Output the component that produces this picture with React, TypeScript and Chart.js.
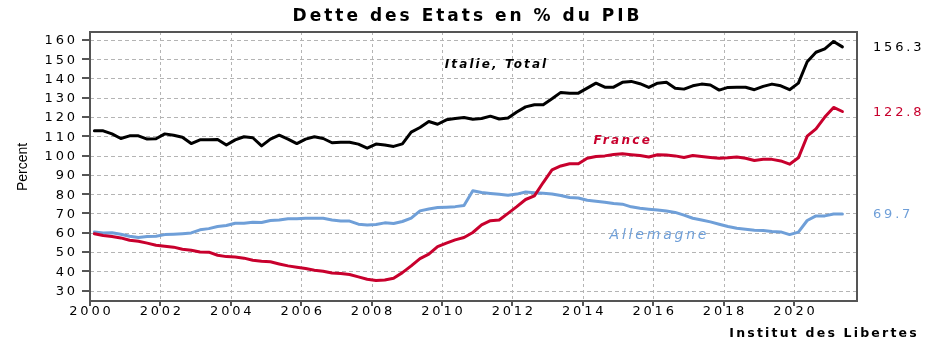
import React, { useEffect, useRef } from "react";
import { Chart, registerables } from "chart.js";
Chart.register(...registerables);

// Quarterly categories 2000-T1 .. 2021-T2
const quarters: string[] = (() => {
  const out: string[] = [];
  for (let y = 2000; y <= 2021; y++)
    for (let q = 1; q <= 4; q++) if (!(y === 2021 && q > 2)) out.push(`${y}-T${q}`);
  return out;
})();

const italie = [
  112.8, 112.8, 111.2, 108.8, 110.2, 110.2, 108.5, 108.7, 111.2, 110.5,
  109.5, 106.2, 108.1, 108.1, 108.3, 105.4, 108.1, 109.7, 109.2, 105.0,
  108.5, 110.5, 108.5, 106.2, 108.5, 109.7, 108.8, 106.6, 106.9, 106.9,
  105.9, 103.8, 105.9, 105.4, 104.7, 106.0, 112.1, 114.5, 117.6, 116.2,
  118.5, 119.2, 119.7, 118.8, 119.2, 120.4, 118.9, 119.4, 122.5, 125.2,
  126.3, 126.3, 129.4, 132.7, 132.3, 132.3, 134.9, 137.5, 135.4, 135.4,
  137.9, 138.4, 137.2, 135.3, 137.5, 137.9, 134.9, 134.4, 136.1, 137.0,
  136.5, 133.9, 135.3, 135.4, 135.4, 134.1, 135.8, 137.0, 136.1, 134.1,
  137.5, 148.6, 153.5, 155.3, 159.1, 156.3,
];

const france = [
  59.4, 58.5, 58.0, 57.3, 56.1, 55.6, 54.6, 53.5, 53.0, 52.5,
  51.4, 50.9, 50.0, 49.9, 48.3, 47.6, 47.4, 46.8, 45.7, 45.2,
  44.9, 43.8, 42.8, 42.1, 41.4, 40.5, 40.0, 39.1, 38.9, 38.3,
  37.1, 35.9, 35.2, 35.5, 36.4, 39.3, 42.8, 46.6, 48.9, 52.8,
  54.6, 56.3, 57.5, 60.1, 64.0, 66.2, 66.6, 70.0, 73.5, 77.2,
  79.1, 86.0, 92.5, 94.6, 95.7, 95.7, 98.6, 99.5, 99.8, 100.5,
  100.9, 100.4, 100.0, 99.2, 100.4, 100.2, 99.8, 99.0, 100.0, 99.5,
  99.0, 98.6, 98.8, 99.2, 98.6, 97.4, 98.0, 98.0, 97.2, 95.5,
  98.8, 110.0, 113.8, 119.9, 124.9, 122.8,
];

const allemagne = [
  60.4, 59.9, 60.0, 59.2, 58.2, 57.5, 58.0, 58.2, 59.0, 59.2,
  59.5, 59.9, 61.5, 62.1, 63.2, 63.7, 64.9, 64.9, 65.4, 65.3,
  66.3, 66.6, 67.2, 67.2, 67.5, 67.5, 67.5, 66.6, 66.0, 66.0,
  64.4, 64.0, 64.2, 65.1, 64.8, 65.8, 67.5, 71.3, 72.3, 73.0,
  73.2, 73.5, 74.1, 81.7, 80.8, 80.3, 79.9, 79.4, 80.0, 81.1,
  80.7, 80.4, 80.1, 79.3, 78.2, 78.0, 76.8, 76.3, 75.8, 75.1,
  74.8, 73.4, 72.7, 72.2, 71.8, 71.2, 70.5, 69.1, 67.5, 66.6,
  65.6, 64.4, 63.2, 62.3, 61.8, 61.3, 61.1, 60.6, 60.4, 59.0,
  60.3, 66.3, 68.7, 68.7, 69.7, 69.7,
];

const seriesNames = ["Italie, Total", "France", "Allemagne"];
const lastLabels = ["156.3", "122.8", "69.7"];
const yTicks = [30, 40, 50, 60, 70, 80, 90, 100, 110, 120, 130, 140, 150, 160];
const xTicks = [2000, 2002, 2004, 2006, 2008, 2010, 2012, 2014, 2016, 2018, 2020];

const TITLE = "Dette des Etats en % du PIB";
const SOURCE = "Institut des Libertes";
const Y_TITLE = "Percent";

const BLACK = "#000000";
const RED = "#c8002d";
const BLUE = "#6f9fd8";
const GRID = "#b4b4b4";
const AXIS = "#555555";
const NUM_LS = 2.8;

const toX = (label: string) => {
  const [y, q] = label.split("-T");
  return Number(y) + (Number(q) - 1) / 4 + 0.125;
};

function drawText(
  ctx: CanvasRenderingContext2D,
  text: string,
  x: number,
  y: number,
  align: CanvasTextAlign,
  font: string,
  color: string,
  ls: number
) {
  ctx.save();
  ctx.font = font;
  (ctx as any).letterSpacing = `${ls}px`;
  ctx.fillStyle = color;
  ctx.textAlign = align;
  ctx.textBaseline = "alphabetic";
  const shift = align === "center" ? ls / 2 : align === "right" ? ls : 0;
  ctx.fillText(text, x + shift, y);
  ctx.restore();
}

function hRule(ctx: CanvasRenderingContext2D, x1: number, x2: number, y: number, w: number, color: string, dash: number[] | null) {
  ctx.fillStyle = color;
  if (!dash) {
    ctx.fillRect(x1, y, x2 - x1, w);
    return;
  }
  for (let x = x1; x < x2; x += dash[0] + dash[1]) ctx.fillRect(x, y, Math.min(dash[0], x2 - x), w);
}
function vRule(ctx: CanvasRenderingContext2D, x: number, y1: number, y2: number, w: number, color: string, dash: number[] | null) {
  ctx.fillStyle = color;
  if (!dash) {
    ctx.fillRect(x, y1, w, y2 - y1);
    return;
  }
  for (let y = y1; y < y2; y += dash[0] + dash[1]) ctx.fillRect(x, y, w, Math.min(dash[0], y2 - y));
}

const NUM_FONT = "13px 'DejaVu Sans'";

const gridPlugin = {
  id: "gridPlugin",
  beforeDatasetsDraw(chart: any) {
    const ctx: CanvasRenderingContext2D = chart.ctx;
    const { left, right, top, bottom } = chart.chartArea;
    const xs = chart.scales.x;
    const ys = chart.scales.y;
    ctx.save();
    yTicks.forEach((v) => {
      const py = Math.round(ys.getPixelForValue(v));
      hRule(ctx, left, right, py, 1, GRID, [4, 3]);
      hRule(ctx, left - 8, left, py - 1, 2, AXIS, null);
    });
    xTicks.forEach((v) => {
      const px = Math.round(xs.getPixelForValue(v));
      vRule(ctx, px, top, bottom, 1, GRID, [3, 3]);
      vRule(ctx, px - 1, bottom, bottom + 5, 2, AXIS, null);
    });
    ctx.restore();
  },
};

const textPlugin = {
  id: "textPlugin",
  afterDraw(chart: any) {
    const ctx: CanvasRenderingContext2D = chart.ctx;
    const { left, right, top, bottom } = chart.chartArea;
    const xs = chart.scales.x;
    const ys = chart.scales.y;

    ctx.save();
    hRule(ctx, left - 1, right + 1, top - 1, 2, AXIS, null);
    hRule(ctx, left - 1, right + 1, bottom - 1, 2, AXIS, null);
    vRule(ctx, left - 1, top - 1, bottom + 1, 2, AXIS, null);
    vRule(ctx, right - 1, top - 1, bottom + 1, 2, AXIS, null);
    ctx.restore();

    yTicks.forEach((v) =>
      drawText(ctx, String(v), left - 15, ys.getPixelForValue(v) + 4.5, "right", NUM_FONT, "#000", NUM_LS)
    );
    xTicks.forEach((v) =>
      drawText(ctx, String(v), xs.getPixelForValue(v), bottom + 14, "center", NUM_FONT, "#000", NUM_LS)
    );

    const colors = [BLACK, RED, BLUE];
    [italie, france, allemagne].forEach((s, i) => {
      drawText(ctx, lastLabels[i], right + 16, ys.getPixelForValue(s[s.length - 1]) + 4.5, "left", NUM_FONT, colors[i], NUM_LS);
    });

    drawText(ctx, TITLE, 466, 21, "center", "bold 17px 'DejaVu Sans'", "#000", 3);
    drawText(ctx, SOURCE, 823, 336.5, "center", "bold 12.5px 'DejaVu Sans'", "#000", 2.2);
    drawText(ctx, seriesNames[0], 495.5, 67.5, "center", "italic bold 12px 'DejaVu Sans'", BLACK, 2.1);
    drawText(ctx, seriesNames[1], 621.7, 143.7, "center", "italic bold 12px 'DejaVu Sans'", RED, 2.3);
    drawText(ctx, seriesNames[2], 658, 238.7, "center", "italic 14px 'DejaVu Sans'", BLUE, 2.8);

    ctx.save();
    ctx.font = "14px 'Liberation Sans Narrow', 'Liberation Sans'";
    ctx.fillStyle = "#000";
    ctx.textAlign = "center";
    ctx.textBaseline = "middle";
    ctx.translate(23, 167);
    ctx.rotate(-Math.PI / 2);
    ctx.fillText(Y_TITLE, 0, 0);
    ctx.restore();
  },
};

export default function App() {
  const ref = useRef<HTMLCanvasElement>(null);
  useEffect(() => {
    const canvas = ref.current!;
    const mk = (data: number[], color: string) => ({
      data: quarters.map((q, i) => ({ x: toX(q), y: data[i] })),
      borderColor: color,
      backgroundColor: color,
      borderWidth: 3,
      pointRadius: 0,
      tension: 0,
      borderJoinStyle: "round" as const,
      borderCapStyle: "round" as const,
      fill: false,
    });
    const chart = new Chart(canvas, {
      type: "line",
      data: {
        datasets: [
          { label: seriesNames[0], ...mk(italie, BLACK) },
          { label: seriesNames[1], ...mk(france, RED) },
          { label: seriesNames[2], ...mk(allemagne, BLUE) },
        ],
      },
      options: {
        animation: false,
        responsive: false,
        devicePixelRatio: 1,
        events: [],
        layout: { padding: { top: 32, right: 78, left: 0, bottom: 0 } },
        plugins: {
          legend: { display: false },
          title: { display: false },
          tooltip: { enabled: false },
        },
        scales: {
          x: {
            type: "linear",
            min: 2000,
            max: 2021.79,
            afterBuildTicks: (s: any) => {
              s.ticks = xTicks.map((v) => ({ value: v }));
            },
            afterFit: (s: any) => {
              s.height = 48;
            },
            ticks: { display: false },
            grid: { display: false },
            border: { display: false },
          },
          y: {
            type: "linear",
            min: 24.6,
            max: 164,
            afterBuildTicks: (s: any) => {
              s.ticks = yTicks.map((v) => ({ value: v }));
            },
            afterFit: (s: any) => {
              s.width = 90;
            },
            ticks: { display: false },
            grid: { display: false },
            border: { display: false },
          },
        },
      },
      plugins: [gridPlugin, textPlugin],
    } as any);
    return () => chart.destroy();
  }, []);
  return (
    <div style={{ position: "absolute", left: 0, top: 0, width: 935, height: 349, background: "#fff" }}>
      <canvas ref={ref} width={935} height={349} style={{ display: "block", width: 935, height: 349 }} />
    </div>
  );
}
